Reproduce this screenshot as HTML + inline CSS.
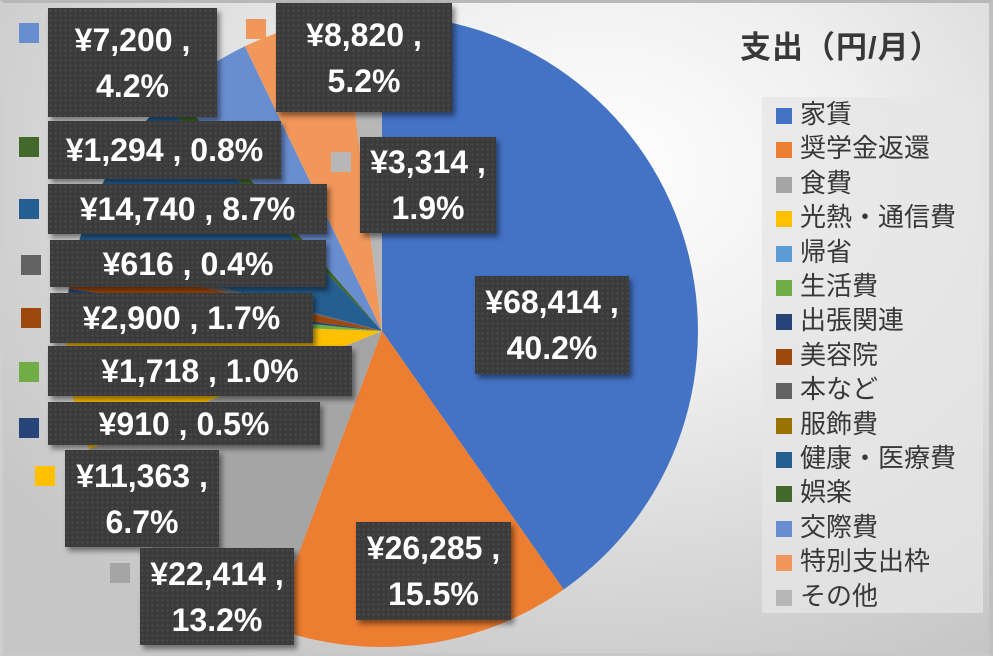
<!DOCTYPE html>
<html><head><meta charset="utf-8"><style>
*{margin:0;padding:0;box-sizing:border-box}
body{width:993px;height:656px;overflow:hidden;position:relative;font-family:"Liberation Sans","Noto Sans CJK JP",sans-serif;
background:radial-gradient(ellipse 720px 560px at 600px 170px,#ffffff 0%,#f0f0f0 35%,#d6d6d6 75%,#c6c6c6 100%);}
.frame{position:absolute;left:0;top:0;width:993px;height:656px;border-top:3px solid #b8b8b8;border-right:4px solid #c0c0c0;border-bottom:3px solid #c8c8c8;border-left:3px solid #cfcfcf}
svg{position:absolute;left:0;top:0}
.lb{position:absolute;background-color:#3b3b3b;background-image:radial-gradient(circle,#4a4a4a 1px,transparent 1.3px);background-size:5px 5px;
box-shadow:3px 4px 5px rgba(0,0,0,0.45);color:#fff;font-weight:bold;font-size:32px;text-align:center;line-height:46px;display:flex;flex-direction:column;justify-content:center;white-space:nowrap}
.mk{position:absolute;width:20px;height:20px}
.title{position:absolute;left:740px;top:22px;font-size:31px;color:#383838;font-weight:bold;letter-spacing:1px}
.leg{position:absolute;left:762px;top:97px;width:221px;height:516px;background:rgba(230,230,230,0.75)}
.li{position:absolute;left:14px;font-size:26px;color:#383838;height:35px;line-height:35px}
.li i{display:inline-block;width:16px;height:16px;margin-right:8px;vertical-align:-1px}
</style></head><body>
<svg width="993" height="656">
<path d="M382 331 L382 15 A316 316 0 0 1 563.7 589.5Z" fill="#4472C4"/>
<path d="M382 331 L563.7 589.5 A316 316 0 0 1 271.1 626.9Z" fill="#ED7D31"/>
<path d="M382 331 L271.1 626.9 A316 316 0 0 1 89.0 449.3Z" fill="#A5A5A5"/>
<path d="M382 331 L89.0 449.3 A316 316 0 0 1 66.2 319.5Z" fill="#FFC000"/>
<path d="M382 331 L66.2 319.5 A316 316 0 0 1 67.6 299.5Z" fill="#70AD47"/>
<path d="M382 331 L67.6 299.5 A316 316 0 0 1 68.8 288.9Z" fill="#264478"/>
<path d="M382 331 L68.8 288.9 A316 316 0 0 1 75.1 255.7Z" fill="#9E480E"/>
<path d="M382 331 L75.1 255.7 A316 316 0 0 1 76.9 248.7Z" fill="#636363"/>
<path d="M382 331 L76.9 248.7 A316 316 0 0 1 163.8 102.4Z" fill="#255E91"/>
<path d="M382 331 L163.8 102.4 A316 316 0 0 1 174.9 92.3Z" fill="#43682B"/>
<path d="M382 331 L174.9 92.3 A316 316 0 0 1 244.9 46.3Z" fill="#698ED0"/>
<path d="M382 331 L244.9 46.3 A316 316 0 0 1 343.4 17.4Z" fill="#F1975A"/>
<path d="M382 331 L343.4 17.4 A316 316 0 0 1 382 15Z" fill="#B7B7B7"/>
</svg>
<div class="frame"></div>

<div class="mk" style="left:19px;top:23px;background:#698ED0"></div>
<div class="lb" style="left:48px;top:8px;width:169px;height:109px"><div>¥7,200 ,</div><div>4.2%</div></div>
<div class="mk" style="left:246px;top:19px;background:#F1975A"></div>
<div class="lb" style="left:276px;top:3px;width:176px;height:109px"><div>¥8,820 ,</div><div>5.2%</div></div>
<div class="mk" style="left:19px;top:137px;background:#43682B"></div>
<div class="lb" style="left:48px;top:121px;width:233px;height:58px"><div>¥1,294 , 0.8%</div></div>
<div class="mk" style="left:331px;top:152px;background:#B7B7B7"></div>
<div class="lb" style="left:360px;top:137px;width:136px;height:96px"><div>¥3,314 ,</div><div>1.9%</div></div>
<div class="mk" style="left:19px;top:199px;background:#255E91"></div>
<div class="lb" style="left:48px;top:184px;width:279px;height:50px"><div>¥14,740 , 8.7%</div></div>
<div class="mk" style="left:21px;top:255px;background:#636363"></div>
<div class="lb" style="left:50px;top:240px;width:276px;height:47px"><div>¥616 , 0.4%</div></div>
<div class="mk" style="left:21px;top:308px;background:#9E480E"></div>
<div class="lb" style="left:50px;top:293px;width:263px;height:50px"><div>¥2,900 , 1.7%</div></div>
<div class="mk" style="left:19px;top:362px;background:#70AD47"></div>
<div class="lb" style="left:48px;top:346px;width:304px;height:50px"><div>¥1,718 , 1.0%</div></div>
<div class="mk" style="left:19px;top:418px;background:#264478"></div>
<div class="lb" style="left:48px;top:402px;width:272px;height:43px"><div>¥910 , 0.5%</div></div>
<div class="mk" style="left:35px;top:466px;background:#FFC000"></div>
<div class="lb" style="left:65px;top:450px;width:154px;height:97px"><div>¥11,363 ,</div><div>6.7%</div></div>
<div class="mk" style="left:110px;top:563px;background:#A5A5A5"></div>
<div class="lb" style="left:140px;top:548px;width:154px;height:97px"><div>¥22,414 ,</div><div>13.2%</div></div>
<div class="lb" style="left:356px;top:522px;width:155px;height:98px"><div>¥26,285 ,</div><div>15.5%</div></div>
<div class="lb" style="left:475px;top:276px;width:154px;height:98px"><div>¥68,414 ,</div><div>40.2%</div></div>

<div class="title">支出（円/月）</div>
<div class="leg">
<div class="li" style="top:0px"><i style="background:#4472C4"></i>家賃</div>
<div class="li" style="top:34.4px"><i style="background:#ED7D31"></i>奨学金返還</div>
<div class="li" style="top:68.8px"><i style="background:#A5A5A5"></i>食費</div>
<div class="li" style="top:103.2px"><i style="background:#FFC000"></i>光熱・通信費</div>
<div class="li" style="top:137.6px"><i style="background:#5B9BD5"></i>帰省</div>
<div class="li" style="top:172px"><i style="background:#70AD47"></i>生活費</div>
<div class="li" style="top:206.4px"><i style="background:#264478"></i>出張関連</div>
<div class="li" style="top:240.8px"><i style="background:#9E480E"></i>美容院</div>
<div class="li" style="top:275.2px"><i style="background:#636363"></i>本など</div>
<div class="li" style="top:309.6px"><i style="background:#997300"></i>服飾費</div>
<div class="li" style="top:344px"><i style="background:#255E91"></i>健康・医療費</div>
<div class="li" style="top:378.4px"><i style="background:#43682B"></i>娯楽</div>
<div class="li" style="top:412.8px"><i style="background:#698ED0"></i>交際費</div>
<div class="li" style="top:447.2px"><i style="background:#F1975A"></i>特別支出枠</div>
<div class="li" style="top:481.6px"><i style="background:#B7B7B7"></i>その他</div>
</div>
</body></html>
